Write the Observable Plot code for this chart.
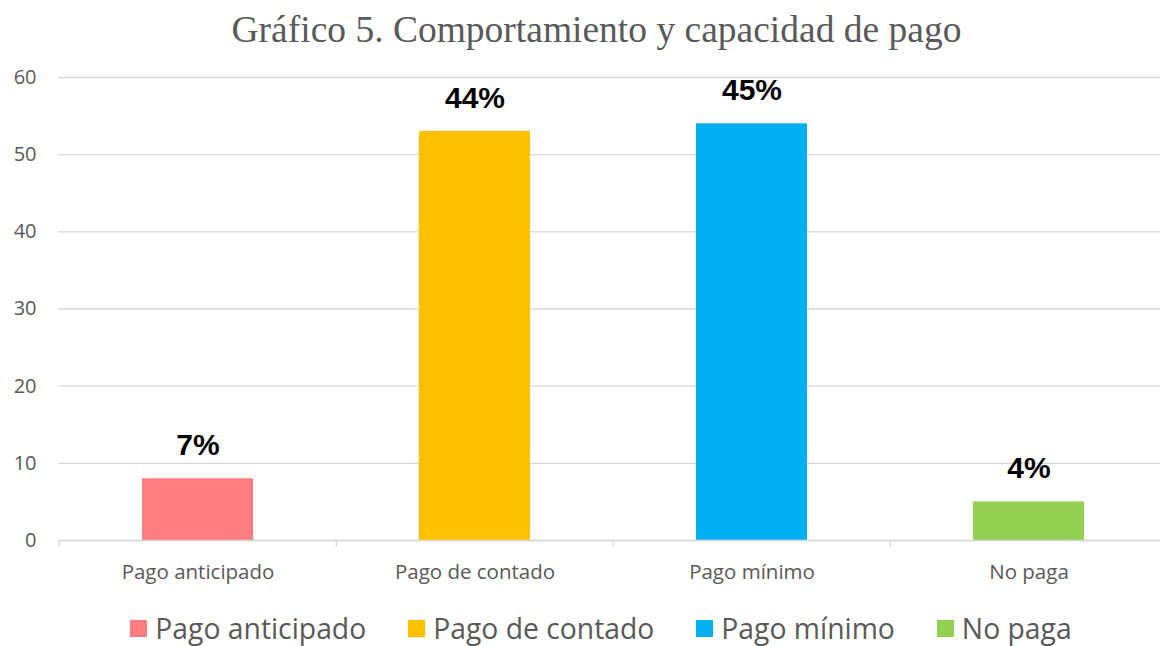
<!DOCTYPE html>
<html>
<head>
<meta charset="utf-8">
<script src="https://cdn.jsdelivr.net/npm/d3@7"></script>
<script src="https://cdn.jsdelivr.net/npm/@observablehq/plot@0.6"></script>
<style>
  html, body { margin: 0; padding: 0; background: #fff; }
  body { width: 1160px; height: 646px; overflow: hidden; position: relative; }
  #title { height: 60px; padding-left: 33px; text-align: center; font-family: "Liberation Serif", "Times New Roman", serif; font-size: 37.5px; color: #595959; line-height: 60px; }
  #chart { position: absolute; top: 60px; left: 0; }
  #legend { position: absolute; top: 609px; left: 21px; width: 1160px; display: flex; justify-content: center; font-family: "Open Sans", sans-serif; font-size: 28.3px; color: #595959; }
  .item { display: flex; align-items: center; margin: 0 21px; }
  .sw { width: 17px; height: 17px; margin-right: 8px; }
</style>
</head>
<body>
<div id="title">Gráfico 5. Comportamiento y capacidad de pago</div>
<div id="chart"></div>
<div id="legend"></div>
<script>
const categories = ["Pago anticipado", "Pago de contado", "Pago mínimo", "No paga"];
const values = [8, 53, 54, 5];
const labels = ["7%", "44%", "45%", "4%"];
const colors = ["#FF7C80", "#FFC000", "#00B0F0", "#92D050"];
const yTicks = [0, 10, 20, 30, 40, 50, 60];

const data = categories.map((c, i) => ({category: c, value: values[i], label: labels[i]}));
const xRange = [58, 1167];
const band = (xRange[1] - xRange[0]) / categories.length;

const plot = Plot.plot({
  width: 1160,
  height: 530,
  marginTop: 17,
  marginBottom: 50,
  marginLeft: 58,
  marginRight: 0,
  style: {fontFamily: "'Open Sans', sans-serif", color: "#595959", background: "#fff"},
  x: {domain: categories, range: xRange, paddingInner: 0.6, paddingOuter: 0.3, label: null},
  y: {domain: [0, 60], ticks: yTicks, label: null},
  color: {domain: categories, range: colors},
  marks: [
    Plot.gridY(yTicks, {stroke: "#d9d9d9", strokeOpacity: 1, strokeWidth: 1.3}),
    Plot.axisY(yTicks, {tickSize: 0, tickPadding: 22, fontSize: 20, fill: "#595959", label: null}),
    Plot.axisX({tickSize: 0, tickPadding: 24, fontSize: 20.5, fill: "#595959", label: null}),
    Plot.barY(data, {x: "category", y: "value", fill: "category"}),
    Plot.ruleY([0], {stroke: "#d9d9d9", strokeWidth: 1.5}),
    Plot.ruleX(categories, {x: d => d, dx: -band / 2, y1: 0, y2: 0, insetBottom: -7, stroke: "#d9d9d9", strokeWidth: 1.5}),
    Plot.text(data, {x: "category", y: "value", text: "label", dy: -24, lineAnchor: "bottom", fontSize: 30, fontWeight: "bold", fill: "#000", fontFamily: "'Liberation Sans', Arial, sans-serif"})
  ]
});
document.getElementById("chart").appendChild(plot);

const legend = document.getElementById("legend");
categories.forEach((c, i) => {
  const it = document.createElement("div");
  it.className = "item";
  const sw = document.createElement("div");
  sw.className = "sw";
  sw.style.background = colors[i];
  const t = document.createElement("span");
  t.textContent = c;
  it.appendChild(sw);
  it.appendChild(t);
  legend.appendChild(it);
});
</script>
</body>
</html>
